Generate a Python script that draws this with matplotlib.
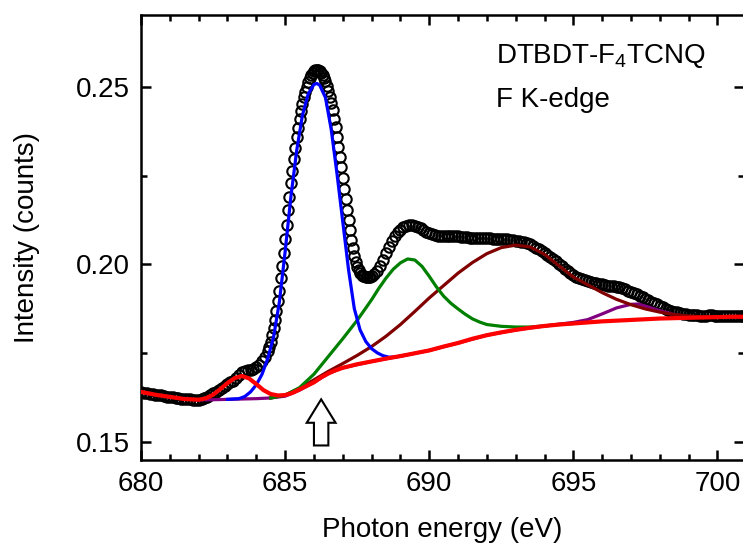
import numpy as np
import matplotlib
matplotlib.use("Agg")
import matplotlib.pyplot as plt
from matplotlib.ticker import MultipleLocator, FormatStrFormatter
from matplotlib.patches import FancyArrow

plt.rcParams["font.family"] = ["Liberation Sans", "DejaVu Sans"]
plt.rcParams["mathtext.default"] = "regular"

# measured spectrum (black circles), finer steps across the main peak
energy = np.concatenate([
    np.round(np.arange(680.0, 684.41, 0.1), 2),
    np.round(np.arange(684.45, 688.001, 0.05), 2),
    np.round(np.arange(688.1, 701.01, 0.1), 2),
])
intensity = [
    0.1640, 0.1638, 0.1637, 0.1635, 0.1634, 0.1632, 0.1631, 0.1630, 0.1628, 0.1627,
    0.1626, 0.1625, 0.1623, 0.1622, 0.1621, 0.1620, 0.1619, 0.1619, 0.1618, 0.1618,
    0.1618, 0.1620, 0.1623, 0.1627, 0.1631, 0.1636, 0.1641, 0.1646, 0.1651, 0.1656,
    0.1662, 0.1667, 0.1672, 0.1680, 0.1688, 0.1695, 0.1699, 0.1701, 0.1703, 0.1706,
    0.1711, 0.1717, 0.1726, 0.1738, 0.1755,
    # 684.45 - 688.00
    0.1768, 0.1782, 0.1800, 0.1819, 0.1842, 0.1867, 0.1896, 0.1926, 0.1960, 0.1995, 0.2033,
    0.2072, 0.2112, 0.2152, 0.2191, 0.2229, 0.2264, 0.2298, 0.2329, 0.2359, 0.2385,
    0.2410, 0.2432, 0.2453, 0.2471, 0.2487, 0.2501, 0.2514, 0.2524, 0.2533, 0.2540,
    0.2545, 0.2548, 0.2549, 0.2548, 0.2545, 0.2540, 0.2534, 0.2526, 0.2516, 0.2503,
    0.2489, 0.2473, 0.2455, 0.2434, 0.2411, 0.2387, 0.2360, 0.2332, 0.2303, 0.2273,
    0.2243, 0.2213, 0.2183, 0.2153, 0.2124, 0.2096, 0.2069, 0.2045, 0.2024, 0.2006,
    0.1993, 0.1983, 0.1976, 0.1971, 0.1968, 0.1966, 0.1965, 0.1964, 0.1964, 0.1965,
    0.1967,
    # 688.1 - 701.0
    0.1972, 0.1982, 0.1996, 0.2013, 0.2031, 0.2049, 0.2065, 0.2079, 0.2090,
    0.2098, 0.2104, 0.2108, 0.2110, 0.2110, 0.2109, 0.2106, 0.2102, 0.2097, 0.2092,
    0.2088, 0.2085, 0.2083, 0.2081, 0.2080, 0.2080, 0.2080, 0.2080, 0.2080, 0.2079,
    0.2079, 0.2078, 0.2077, 0.2076, 0.2075, 0.2075, 0.2074, 0.2074, 0.2074, 0.2073,
    0.2073, 0.2073, 0.2072, 0.2072, 0.2072, 0.2071, 0.2071, 0.2070, 0.2069, 0.2068,
    0.2067, 0.2066, 0.2064, 0.2062, 0.2059, 0.2056, 0.2052, 0.2047, 0.2042, 0.2037,
    0.2032, 0.2026, 0.2020, 0.2014, 0.2008, 0.2001, 0.1994, 0.1987, 0.1980, 0.1974,
    0.1969, 0.1965, 0.1961, 0.1958, 0.1955, 0.1953, 0.1950, 0.1948, 0.1946, 0.1944,
    0.1943, 0.1941, 0.1940, 0.1939, 0.1938, 0.1936, 0.1935, 0.1932, 0.1929, 0.1925,
    0.1922, 0.1919, 0.1915, 0.1911, 0.1907, 0.1903, 0.1899, 0.1895, 0.1891, 0.1887,
    0.1883, 0.1879, 0.1875, 0.1872, 0.1869, 0.1866, 0.1864, 0.1862, 0.1860, 0.1859,
    0.1858, 0.1857, 0.1856, 0.1856, 0.1855, 0.1855, 0.1855, 0.1856, 0.1856, 0.1855,
    0.1855, 0.1855, 0.1854, 0.1854, 0.1855, 0.1855, 0.1855, 0.1855, 0.1855, 0.1855,
    0.1855,
]

# fit components (background + peak)
red_e = [680.0, 680.5, 681.0, 681.5, 682.0, 682.25, 682.5, 682.75, 683.0, 683.25, 683.5,
         683.75, 684.0, 684.25, 684.5, 684.75, 685.0, 685.25, 685.5, 685.75, 686.0, 686.25,
         686.5, 686.75, 687.0, 687.5, 688.0, 688.5, 689.0, 689.5, 690.0, 690.5, 691.0,
         691.5, 692.0, 692.5, 693.0, 693.5, 694.0, 694.5, 695.0, 695.5, 696.0, 696.5,
         697.0, 697.5, 698.0, 698.5, 699.0, 699.5, 700.0, 700.5, 701.0]
red_i = [0.1640, 0.1632, 0.1626, 0.1620, 0.1618, 0.1622, 0.1632, 0.1648, 0.1665, 0.1679, 0.1685,
         0.1678, 0.1662, 0.1645, 0.1634, 0.1630, 0.1631, 0.1637, 0.1647, 0.1657, 0.1667, 0.1681,
         0.1692, 0.1701, 0.1708, 0.1718, 0.1726, 0.1734, 0.1741, 0.1749, 0.1757, 0.1768, 0.1778,
         0.1790, 0.1800, 0.1808, 0.1815, 0.1821, 0.1826, 0.1830, 0.1833, 0.1836, 0.1839, 0.1841,
         0.1843, 0.1845, 0.1847, 0.1848, 0.1849, 0.1850, 0.1851, 0.1852, 0.1852]

purple_e = [680.0, 680.5, 681.0, 681.5, 682.0, 682.5, 683.0, 683.5, 684.0, 684.5, 685.0,
            685.5, 686.0, 686.5, 687.0, 688.0, 689.0, 690.0, 691.0, 692.0, 693.0, 694.0,
            694.5, 695.0, 695.5, 696.0, 696.5, 697.0, 697.25, 697.5, 698.0, 698.5, 699.0,
            699.5, 700.0, 700.5, 701.0]
purple_i = [0.1640, 0.1632, 0.1626, 0.1620, 0.1618, 0.1618, 0.1619, 0.1620, 0.1621, 0.1623, 0.1628,
            0.1645, 0.1667, 0.1692, 0.1708, 0.1726, 0.1741, 0.1757, 0.1778, 0.1800, 0.1815, 0.1826,
            0.1831, 0.1836, 0.1844, 0.1860, 0.1877, 0.1887, 0.1888, 0.1882, 0.1869, 0.1858, 0.1852,
            0.1851, 0.1851, 0.1852, 0.1852]

blue_e = [683.0, 683.4, 683.6, 683.8, 684.0, 684.2, 684.4, 684.6, 684.8, 685.0, 685.2,
          685.4, 685.6, 685.8, 686.0, 686.1, 686.2, 686.4, 686.6, 686.8, 687.0, 687.2,
          687.4, 687.6, 687.8, 688.0, 688.2, 688.4, 688.6, 688.8, 689.0, 689.2]
blue_i = [0.1619, 0.1621, 0.1627, 0.1640, 0.1660, 0.1690, 0.1735, 0.1795, 0.1893, 0.2035, 0.2190,
          0.2320, 0.2420, 0.2480, 0.2507, 0.2510, 0.2505, 0.2470, 0.2380, 0.2255, 0.2120, 0.1985,
          0.1875, 0.1815, 0.1782, 0.1762, 0.1750, 0.1742, 0.1738, 0.1738, 0.1741, 0.1744]

green_e = [684.5, 685.0, 685.5, 686.0, 686.5, 687.0, 687.5, 688.0, 688.25, 688.5, 688.75,
           689.0, 689.25, 689.5, 689.75, 690.0, 690.25, 690.5, 690.75, 691.0, 691.25, 691.5,
           691.75, 692.0, 692.5, 693.0, 693.5, 694.0, 694.5, 695.0]
green_i = [0.1623, 0.1631, 0.1652, 0.1690, 0.1740, 0.1790, 0.1842, 0.1900, 0.1932, 0.1961, 0.1986,
           0.2004, 0.2015, 0.2012, 0.1994, 0.1966, 0.1936, 0.1910, 0.1890, 0.1874, 0.1859, 0.1846,
           0.1837, 0.1830, 0.1825, 0.1823, 0.1823, 0.1826, 0.1830, 0.1833]

brown_e = [684.5, 685.0, 685.5, 686.0, 686.5, 687.0, 687.5, 688.0, 688.5, 689.0, 689.5,
           690.0, 690.5, 691.0, 691.5, 692.0, 692.5, 693.0, 693.5, 694.0, 694.5, 695.0,
           695.5, 696.0, 696.5, 697.0, 697.5, 698.0, 698.5, 699.0, 699.5, 700.0, 700.5, 701.0]
brown_i = [0.1623, 0.1631, 0.1650, 0.1674, 0.1698, 0.1720, 0.1743, 0.1768, 0.1797, 0.1830, 0.1867,
           0.1905, 0.1940, 0.1975, 0.2005, 0.2030, 0.2047, 0.2054, 0.2049, 0.2028, 0.1996, 0.1964,
           0.1942, 0.1920, 0.1901, 0.1886, 0.1874, 0.1865, 0.1858, 0.1854, 0.1852, 0.1852, 0.1852, 0.1852]

arrow_energy = 686.25

fig = plt.figure(figsize=(7.43, 5.48), dpi=100)
ax = fig.add_axes([141 / 743, 88 / 548, 603 / 743, 445 / 548])

ax.plot(energy, intensity, "o", mfc="none", mec="black", ms=7.5, mew=1.5, zorder=1)
ax.plot(purple_e, purple_i, color="#800080", lw=2.3, zorder=2)
ax.plot(brown_e, brown_i, color="#800000", lw=2.3, zorder=3)
ax.plot(green_e, green_i, color="#008000", lw=2.3, zorder=4)
ax.plot(blue_e, blue_i, color="#0000ff", lw=2.3, zorder=5)
ax.plot(red_e, red_i, color="#ff0000", lw=3.0, zorder=6)

# hollow arrow marking the edge position
ax.add_patch(FancyArrow(arrow_energy, 0.1489, 0, 0.0130, width=0.5, head_width=1.0,
                        head_length=0.0066, length_includes_head=True,
                        fc="white", ec="black", lw=1.5, zorder=7))

ax.text(692.3, 0.2568, "DTBDT-F$_4$TCNQ", fontsize=20, va="baseline")
ax.text(692.3, 0.2444, "F K-edge", fontsize=20, va="baseline")

ax.set_xlim(680, 700.92)
ax.set_ylim(0.1448, 0.2703)
ax.xaxis.set_major_locator(MultipleLocator(5))
ax.xaxis.set_minor_locator(MultipleLocator(1))
ax.yaxis.set_major_locator(MultipleLocator(0.05))
ax.yaxis.set_minor_locator(MultipleLocator(0.025))
ax.yaxis.set_major_formatter(FormatStrFormatter("%.2f"))
ax.tick_params(which="both", direction="in", top=True, right=True, width=1.8, labelsize=20)
ax.tick_params(which="major", length=7, pad=8)
ax.tick_params(which="minor", length=4)
for sp in ax.spines.values():
    sp.set_linewidth(1.8)

ax.set_xlabel("Photon energy (eV)", fontsize=20, labelpad=14)
ax.set_ylabel("Intensity (counts)", fontsize=20, labelpad=26)

fig.savefig("out.png", dpi=100)
